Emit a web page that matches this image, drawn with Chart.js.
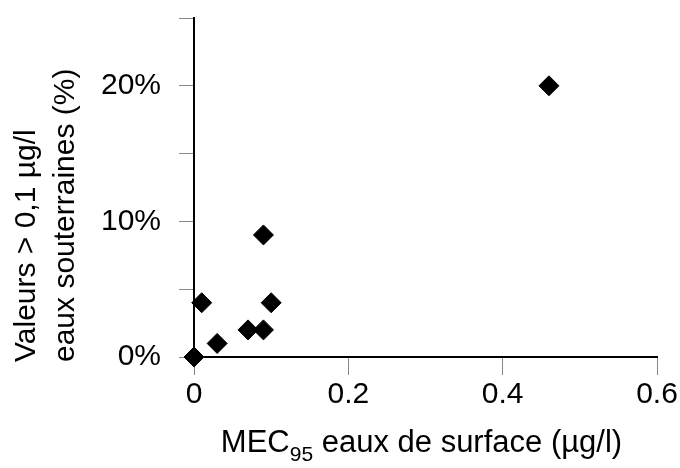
<!DOCTYPE html>
<html>
<head>
<meta charset="utf-8">
<script src="https://cdn.jsdelivr.net/npm/chart.js@4"></script>
<style>
  body { margin: 0; background: #fff; }
  canvas { display: block; }
</style>
</head>
<body>
<canvas id="chart" width="680" height="468"></canvas>
<script>
// Data
const mecValues = [0, 0.01, 0.03, 0.07, 0.09, 0.09, 0.10, 0.46];
const pctValues = [0, 4, 1, 2, 2, 9, 4, 20];
const xTicks = [0, 0.2, 0.4, 0.6];
const yTickLabels = { 0: "0%", 10: "10%", 20: "20%" };
const yTitleLines = ["Valeurs > 0,1 µg/l", "eaux souterraines (%)"];
const xTitleParts = ["MEC", "95", " eaux de surface (µg/l)"];

const FONT = "'Liberation Sans', Arial, sans-serif";

// Axis titles (subscript needs manual drawing)
const titlesPlugin = {
  id: "titles",
  afterDraw(chart) {
    const ctx = chart.ctx;
    const area = chart.chartArea;
    ctx.save();
    ctx.fillStyle = "#000";
    ctx.textBaseline = "alphabetic";

    // x title
    const big = "31px " + FONT;
    const small = "21px " + FONT;
    ctx.font = big;
    const w1 = ctx.measureText(xTitleParts[0]).width;
    const w3 = ctx.measureText(xTitleParts[2]).width;
    ctx.font = small;
    const w2 = ctx.measureText(xTitleParts[1]).width;
    let x = (area.left + area.right) / 2 - 4 - (w1 + w2 + w3) / 2;
    const base = 452;
    ctx.textAlign = "left";
    ctx.font = big;
    ctx.fillText(xTitleParts[0], x, base);
    x += w1;
    ctx.font = small;
    ctx.fillText(xTitleParts[1], x, base + 9);
    x += w2;
    ctx.font = big;
    ctx.fillText(xTitleParts[2], x, base);

    // y title, rotated, two lines starting at bottom
    ctx.translate(0, 362);
    ctx.rotate(-Math.PI / 2);
    ctx.font = "30px " + FONT;
    ctx.fillText(yTitleLines[0], 0, 35);
    ctx.fillText(yTitleLines[1], 0, 74);
    ctx.restore();
  }
};

new Chart(document.getElementById("chart"), {
  type: "scatter",
  data: {
    datasets: [{
      data: mecValues.map((v, i) => ({ x: v, y: pctValues[i] })),
      pointStyle: "rectRot",
      pointRadius: 10,
      pointHoverRadius: 10,
      backgroundColor: "#000",
      borderColor: "#000",
      borderWidth: 1,
      clip: false
    }]
  },
  options: {
    responsive: false,
    animation: false,
    devicePixelRatio: 1,
    layout: { padding: { top: 18, right: 23, left: 0, bottom: 0 } },
    plugins: {
      legend: { display: false },
      tooltip: { enabled: false }
    },
    scales: {
      x: {
        type: "linear",
        min: 0,
        max: 0.6,
        afterBuildTicks: (scale) => {
          scale.ticks = xTicks.map((v) => ({ value: v }));
        },
        afterFit: (scale) => {
          scale.height = 111;
          scale.paddingLeft = 0;
          scale.paddingRight = 0;
        },
        ticks: {
          color: "#000",
          font: { family: FONT, size: 30 },
          padding: 2,
          maxRotation: 0,
          callback: (v) => (v === 0 ? "0" : v.toFixed(1))
        },
        grid: {
          drawOnChartArea: false,
          drawTicks: true,
          tickLength: 18,
          tickColor: "#888",
          lineWidth: 1
        },
        border: { color: "#000", width: 2 }
      },
      y: {
        min: 0,
        max: 25,
        afterFit: (scale) => {
          scale.width = 194;
          scale.paddingTop = 0;
          scale.paddingBottom = 0;
        },
        ticks: {
          stepSize: 5,
          color: "#000",
          font: { family: FONT, size: 30 },
          padding: 18,
          callback: (v) => yTickLabels[v] || ""
        },
        grid: {
          drawOnChartArea: false,
          drawTicks: true,
          tickLength: 15,
          tickColor: "#888",
          lineWidth: 1
        },
        border: { color: "#000", width: 2 }
      }
    }
  },
  plugins: [titlesPlugin]
});
</script>
</body>
</html>
